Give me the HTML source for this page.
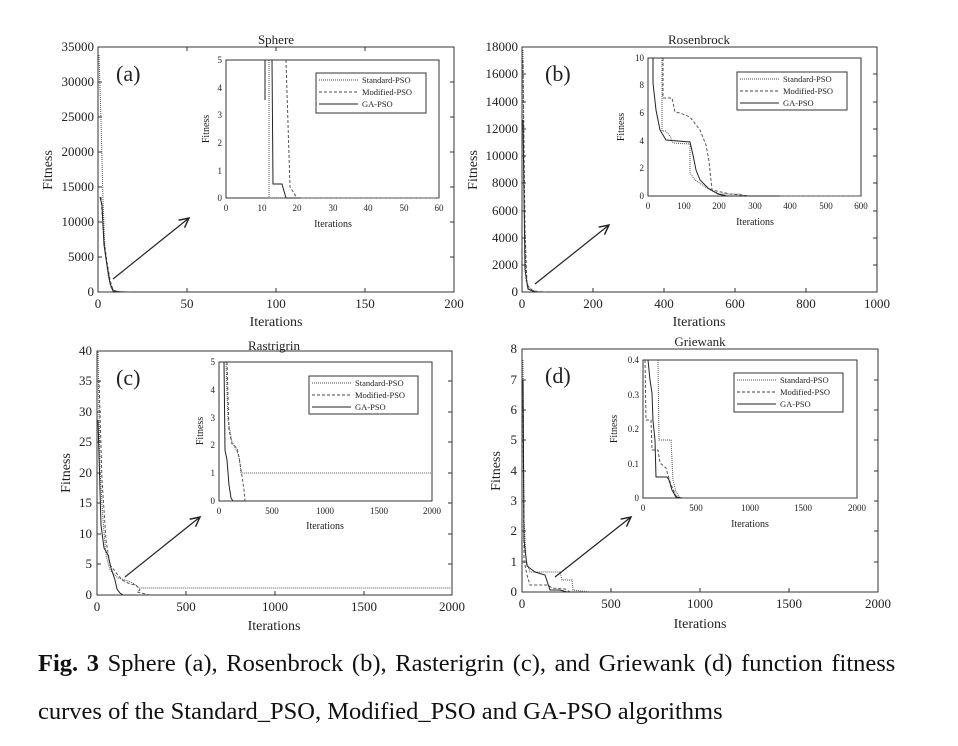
<!DOCTYPE html>
<html><head><meta charset="utf-8"><style>
html,body{margin:0;padding:0;background:#fff;}
body{width:958px;height:746px;overflow:hidden;position:relative;font-family:"Liberation Serif",serif;}
.cap{position:absolute;left:38px;font-size:24.5px;color:#111;white-space:nowrap;line-height:28px;}
</style></head><body>
<svg width="958" height="746" viewBox="0 0 958 746" style="position:absolute;left:0;top:0" font-family="Liberation Serif, serif" fill="#222">
<defs><marker id="ar" markerWidth="10" markerHeight="10" refX="8" refY="5" orient="auto"><path d="M0,1 L8,5 L0,9" fill="none" stroke="#222" stroke-width="1.2"/></marker></defs>
<g stroke="#333" fill="none" stroke-width="1">
<rect x="98" y="47" width="356" height="245"/>
<rect x="522" y="47" width="355" height="245"/>
<rect x="97" y="351" width="355" height="244"/>
<rect x="522" y="349" width="356" height="243"/>
<rect x="226" y="60" width="213" height="138"/>
<rect x="648" y="58" width="213" height="138"/>
<rect x="219" y="362" width="213" height="139"/>
<rect x="643" y="360" width="214" height="138"/>
<rect x="316" y="73" width="110" height="40"/>
<rect x="737" y="72" width="110" height="38"/>
<rect x="309" y="376" width="109" height="38"/>
<rect x="734" y="373" width="109" height="39"/>
</g>
<g stroke="#222" stroke-width="1.2" fill="none">
<line x1="113" y1="279" x2="189" y2="218" marker-end="url(#ar)"/>
<line x1="535" y1="284" x2="609" y2="225" marker-end="url(#ar)"/>
<line x1="125" y1="577" x2="200" y2="517" marker-end="url(#ar)"/>
<line x1="555" y1="577" x2="631" y2="517" marker-end="url(#ar)"/>
</g>
<g stroke="#333" stroke-width="1">
<path d="M98,257h4M98,222h4M98,187h4M98,152h4M98,117h4M98,82h4M187,292v-4M276,292v-4M365,292v-4M454,257h-4M454,222h-4M454,187h-4M454,152h-4M454,117h-4M454,82h-4M187,47v4M276,47v4M365,47v4"/>
<path d="M522,265h4M522,238h4M522,211h4M522,183h4M522,156h4M522,129h4M522,102h4M522,74h4M593,292v-4M664,292v-4M735,292v-4M806,292v-4M877,265h-4M877,238h-4M877,211h-4M877,183h-4M877,156h-4M877,129h-4M877,102h-4M877,74h-4"/>
<path d="M97,564h4M97,534h4M97,503h4M97,473h4M97,442h4M97,412h4M97,381h4M186,595v-4M275,595v-4M364,595v-4M452,564h-4M452,534h-4M452,503h-4M452,473h-4M452,442h-4M452,412h-4M452,381h-4"/>
<path d="M522,562h4M522,531h4M522,501h4M522,471h4M522,440h4M522,410h4M522,380h4M611,592v-4M700,592v-4M789,592v-4M878,562h-4M878,531h-4M878,501h-4M878,471h-4M878,440h-4M878,410h-4M878,380h-4"/>
</g>
<g font-size="13" text-anchor="end">
<text x="94" y="296">0</text><text x="94" y="261">5000</text><text x="94" y="226">10000</text><text x="94" y="191">15000</text><text x="94" y="156">20000</text><text x="94" y="121">25000</text><text x="94" y="86">30000</text><text x="94" y="51">35000</text>
<text x="518" y="296">0</text><text x="518" y="269">2000</text><text x="518" y="242">4000</text><text x="518" y="215">6000</text><text x="518" y="187">8000</text><text x="518" y="160">10000</text><text x="518" y="133">12000</text><text x="518" y="106">14000</text><text x="518" y="78">16000</text><text x="518" y="51">18000</text>
<text x="92" y="599">0</text><text x="92" y="568">5</text><text x="92" y="538">10</text><text x="92" y="507">15</text><text x="92" y="477">20</text><text x="92" y="446">25</text><text x="92" y="416">30</text><text x="92" y="385">35</text><text x="92" y="355">40</text>
<text x="517" y="596">0</text><text x="517" y="566">1</text><text x="517" y="535">2</text><text x="517" y="505">3</text><text x="517" y="475">4</text><text x="517" y="444">5</text><text x="517" y="414">6</text><text x="517" y="384">7</text><text x="517" y="353">8</text>
</g>
<g font-size="13" text-anchor="middle">
<text x="98" y="308">0</text><text x="187" y="308">50</text><text x="276" y="308">100</text><text x="365" y="308">150</text><text x="454" y="308">200</text>
<text x="522" y="308">0</text><text x="593" y="308">200</text><text x="664" y="308">400</text><text x="735" y="308">600</text><text x="806" y="308">800</text><text x="877" y="308">1000</text>
<text x="97" y="611">0</text><text x="186" y="611">500</text><text x="275" y="611">1000</text><text x="364" y="611">1500</text><text x="452" y="611">2000</text>
<text x="522" y="608">0</text><text x="611" y="608">500</text><text x="700" y="608">1000</text><text x="789" y="608">1500</text><text x="878" y="608">2000</text>
</g>
<g font-size="14" text-anchor="middle">
<text x="276" y="326">Iterations</text><text x="699" y="326">Iterations</text><text x="274" y="630">Iterations</text><text x="700" y="628">Iterations</text>
<text transform="translate(52,170) rotate(-90)">Fitness</text><text transform="translate(477,170) rotate(-90)">Fitness</text>
<text transform="translate(70,473) rotate(-90)">Fitness</text><text transform="translate(500,471) rotate(-90)">Fitness</text>
<text x="276" y="44" font-size="13">Sphere</text><text x="699" y="44" font-size="13">Rosenbrock</text>
<text x="274" y="350" font-size="13">Rastrigrin</text><text x="700" y="346" font-size="13">Griewank</text>
</g>
<g font-size="22"><text x="116" y="81">(a)</text><text x="545" y="81">(b)</text><text x="116" y="385">(c)</text><text x="545" y="383">(d)</text></g>
<g font-size="9" text-anchor="end">
<text x="222" y="201">0</text><text x="222" y="174">1</text><text x="222" y="146">2</text><text x="222" y="118">3</text><text x="222" y="91">4</text><text x="222" y="63">5</text>
<text x="644" y="199">0</text><text x="644" y="171">2</text><text x="644" y="144">4</text><text x="644" y="116">6</text><text x="644" y="88">8</text><text x="644" y="61">10</text>
<text x="215" y="504">0</text><text x="215" y="476">1</text><text x="215" y="448">2</text><text x="215" y="421">3</text><text x="215" y="393">4</text><text x="215" y="365">5</text>
<text x="639" y="501">0</text><text x="639" y="467">0.1</text><text x="639" y="432">0.2</text><text x="639" y="398">0.3</text><text x="639" y="363">0.4</text>
</g>
<g font-size="9" text-anchor="middle">
<text x="226" y="211">0</text><text x="262" y="211">10</text><text x="297" y="211">20</text><text x="333" y="211">30</text><text x="368" y="211">40</text><text x="404" y="211">50</text><text x="439" y="211">60</text>
<text x="648" y="209">0</text><text x="684" y="209">100</text><text x="719" y="209">200</text><text x="755" y="209">300</text><text x="790" y="209">400</text><text x="826" y="209">500</text><text x="861" y="209">600</text>
<text x="219" y="514">0</text><text x="272" y="514">500</text><text x="325" y="514">1000</text><text x="379" y="514">1500</text><text x="432" y="514">2000</text>
<text x="643" y="511">0</text><text x="696" y="511">500</text><text x="750" y="511">1000</text><text x="803" y="511">1500</text><text x="857" y="511">2000</text>
<text x="333" y="227" font-size="10">Iterations</text><text x="755" y="225" font-size="10">Iterations</text><text x="325" y="529" font-size="10">Iterations</text><text x="750" y="527" font-size="10">Iterations</text>
<text transform="translate(209,129) rotate(-90)" font-size="10">Fitness</text><text transform="translate(624,127) rotate(-90)" font-size="10">Fitness</text>
<text transform="translate(203,431) rotate(-90)" font-size="10">Fitness</text><text transform="translate(617,429) rotate(-90)" font-size="10">Fitness</text>
</g>
<g font-size="8.5" stroke-width="0.9">
<g transform="translate(316,73)"><line x1="3" y1="7" x2="42" y2="7" stroke="#444" stroke-dasharray="1 1"/><line x1="3" y1="19" x2="42" y2="19" stroke="#444" stroke-dasharray="3 2"/><line x1="3" y1="31" x2="42" y2="31" stroke="#222"/><text x="46" y="10" stroke="none">Standard-PSO</text><text x="46" y="22" stroke="none">Modified-PSO</text><text x="46" y="34" stroke="none">GA-PSO</text></g>
<g transform="translate(737,72)"><line x1="3" y1="7" x2="42" y2="7" stroke="#444" stroke-dasharray="1 1"/><line x1="3" y1="19" x2="42" y2="19" stroke="#444" stroke-dasharray="3 2"/><line x1="3" y1="31" x2="42" y2="31" stroke="#222"/><text x="46" y="10" stroke="none">Standard-PSO</text><text x="46" y="22" stroke="none">Modified-PSO</text><text x="46" y="34" stroke="none">GA-PSO</text></g>
<g transform="translate(309,376)"><line x1="3" y1="7" x2="42" y2="7" stroke="#444" stroke-dasharray="1 1"/><line x1="3" y1="19" x2="42" y2="19" stroke="#444" stroke-dasharray="3 2"/><line x1="3" y1="31" x2="42" y2="31" stroke="#222"/><text x="46" y="10" stroke="none">Standard-PSO</text><text x="46" y="22" stroke="none">Modified-PSO</text><text x="46" y="34" stroke="none">GA-PSO</text></g>
<g transform="translate(734,373)"><line x1="3" y1="7" x2="42" y2="7" stroke="#444" stroke-dasharray="1 1"/><line x1="3" y1="19" x2="42" y2="19" stroke="#444" stroke-dasharray="3 2"/><line x1="3" y1="31" x2="42" y2="31" stroke="#222"/><text x="46" y="10" stroke="none">Standard-PSO</text><text x="46" y="22" stroke="none">Modified-PSO</text><text x="46" y="34" stroke="none">GA-PSO</text></g>
</g>
<g fill="none" stroke-width="1">
<path d="M99,55 L101,120 L103,200 L105,250 L108,275 L111,288 L115,291 L130,292" stroke="#555" stroke-dasharray="1 1"/>
<path d="M101,197 L104,240 L107,262 L110,280 L113,290 L118,292" stroke="#555" stroke-dasharray="3 2"/>
<path d="M100,197 L102,205 L104,245 L107,265 L110,283 L113,291 L120,292" stroke="#222"/>
<path d="M269,60 L269,198 L439,198" stroke="#555" stroke-dasharray="1 1"/>
<path d="M286,60 L290,187 L297,198 L439,198" stroke="#555" stroke-dasharray="3 2"/>
<path d="M265,60 L265,100 M272,60 L273,184 L282,184 L286,198 L300,198" stroke="#222"/>
<path d="M523,50 L524,200 L526,280 L530,290 L540,292" stroke="#555" stroke-dasharray="1 1"/>
<path d="M523,60 L525,230 L527,285 L533,291 L545,292" stroke="#555" stroke-dasharray="3 2"/>
<path d="M523,120 L525,270 L528,289 L535,292" stroke="#222"/>
<path d="M662,58 L662,131 L666,131 L670,136 L673,143 L690,144 L690,173 L695,180 L710,190 L720,194 L740,194 L745,196 L861,196" stroke="#555" stroke-dasharray="1 1"/>
<path d="M663,58 L663,98 L672,98 L675,112 L680,113 L690,117 L700,130 L706,145 L709,161 L712,190 L730,194 L750,196 L861,196" stroke="#555" stroke-dasharray="3 2"/>
<path d="M653,58 L653,83 L656,110 L660,130 L666,140 L690,142 L693,155 L696,170 L700,180 L708,188 L718,194 L727,196 L780,196" stroke="#222"/>
<path d="M98,352 L100,470 L103,520 L106,555 L110,570 L118,578 L125,580 L133,583 L139,588 L452,588" stroke="#555" stroke-dasharray="1 1"/>
<path d="M99,380 L102,480 L106,540 L110,565 L118,575 L122,580 L130,584 L136,585 L140,590 L137,592 L150,595" stroke="#555" stroke-dasharray="3 2"/>
<path d="M98,420 L101,525 L104,548 L108,555 L111,568 L115,580 L117,589 L120,593 L123,595 L135,595" stroke="#222"/>
<path d="M226,362 L228,420 L232,442 L236,449 L239,456 L241,473 L432,473" stroke="#555" stroke-dasharray="1 1"/>
<path d="M227,362 L229,430 L232,444 L237,448 L240,463 L244,490 L245,501" stroke="#555" stroke-dasharray="3 2"/>
<path d="M224,362 L225,450 L227,460 L229,485 L231,498 L233,501 L245,501" stroke="#222"/>
<path d="M523,360 L524,520 L526,560 L530,572 L560,572 L562,580 L572,580 L573,590 L590,592" stroke="#555" stroke-dasharray="1 1"/>
<path d="M523,400 L524,560 L527,575 L530,585 L548,585 L552,588 L565,589 L570,592" stroke="#555" stroke-dasharray="3 2"/>
<path d="M523,380 L524,540 L527,566 L535,572 L545,575 L550,590 L560,590 L567,592 L580,592" stroke="#222"/>
<path d="M658,360 L659,440 L671,440 L673,480 L676,492 L680,498 L857,498" stroke="#555" stroke-dasharray="1 1"/>
<path d="M645,360 L646,420 L651,420 L652,450 L658,450 L660,463 L666,468 L670,482 L676,496 L680,498" stroke="#555" stroke-dasharray="3 2"/>
<path d="M648,360 L650,380 L652,393 L653,421 L655,440 L656,477 L667,477 L669,480 L672,490 L676,497 L682,498" stroke="#222"/>
</g>
</svg>
<div class="cap" style="top:650px;word-spacing:2.5px"><b>Fig. 3</b> Sphere (a), Rosenbrock (b), Rasterigrin (c), and Griewank (d) function fitness</div>
<div class="cap" style="top:698px">curves of the Standard_PSO, Modified_PSO and GA-PSO algorithms</div>
</body></html>
